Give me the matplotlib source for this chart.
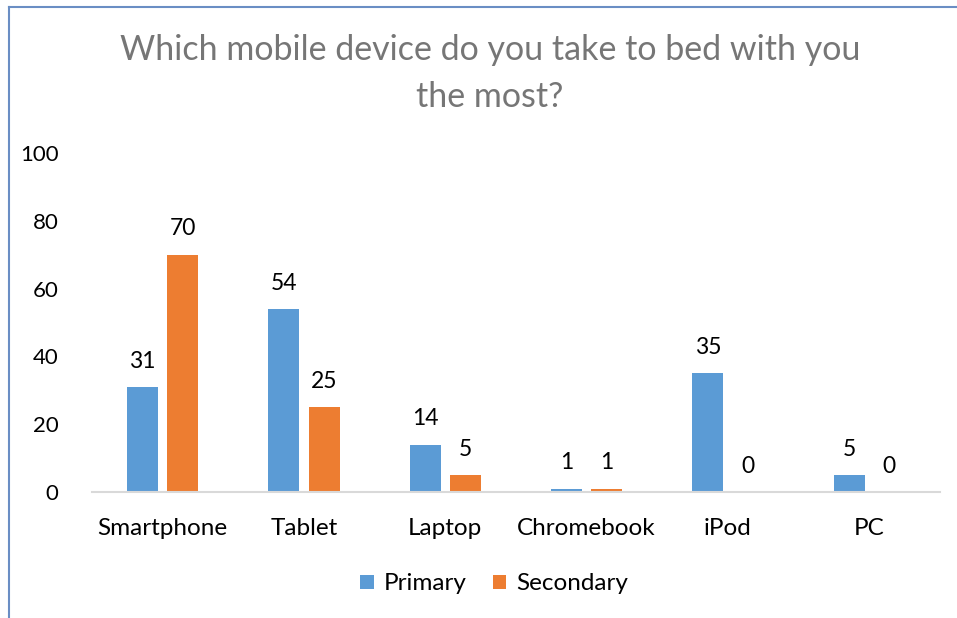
import matplotlib.pyplot as plt
from matplotlib.lines import Line2D
import numpy as np

plt.rcParams['font.family'] = ['Lato', 'DejaVu Sans']

categories = ["Smartphone", "Tablet", "Laptop", "Chromebook", "iPod", "PC"]
primary = [31, 54, 14, 1, 35, 5]
secondary = [70, 25, 5, 1, 0, 0]
yticks = [0, 20, 40, 60, 80, 100]

blue = '#5B9BD5'
orange = '#ED7D31'

fig = plt.figure(figsize=(9.57, 6.18), dpi=100)
ax = fig.add_axes([92/957, 1-492/618, (940-92)/957, (492-153)/618])

x = np.arange(len(categories))
w = 0.22
off = 0.142
b1 = ax.bar(x - off, primary, w, color=blue, label='Primary')
b2 = ax.bar(x + off, secondary, w, color=orange, label='Secondary')

for bars, vals in ((b1, primary), (b2, secondary)):
    for rect, v in zip(bars, vals):
        ax.annotate(str(v), (rect.get_x() + rect.get_width()/2, v),
                    xytext=(0, 11), textcoords='offset points',
                    ha='center', va='bottom', fontsize=16.5, color='#000000')

ax.set_xlim(-0.5, len(categories) - 0.5)
ax.set_ylim(0, 100)
ax.set_yticks(yticks)
ax.set_xticks(x)
ax.set_xticklabels(categories, fontsize=17.5)
ax.tick_params(axis='both', length=0, colors='#000000')
ax.tick_params(axis='y', pad=24, labelsize=16)
ax.tick_params(axis='x', pad=19)
for s in ('top', 'right', 'left'):
    ax.spines[s].set_visible(False)
ax.spines['bottom'].set_color('#D9D9D9')
ax.spines['bottom'].set_linewidth(1.5)

# title in two lines
fig.text(0.512, 1-50/618, "Which mobile device do you take to bed with you",
         ha='center', va='center', fontsize=24.5, color='#767676')
fig.text(0.512, 1-97/618, "the most?",
         ha='center', va='center', fontsize=24.5, color='#767676')

fig.legend(handles=[b1, b2], loc='center', bbox_to_anchor=(494/957, 1-584/618),
           ncol=2, frameon=False, fontsize=17.5, handlelength=0.55, handleheight=0.55,
           handletextpad=0.4, columnspacing=1.1)

# chart frame edges
fig.add_artist(Line2D([9/957, 9/957], [0, 1-7/618], color='#6A8EC4', lw=1.5))
fig.add_artist(Line2D([9/957, 1], [1-7/618, 1-7/618], color='#6A8EC4', lw=1.5))

fig.savefig('out.png', dpi=100)
